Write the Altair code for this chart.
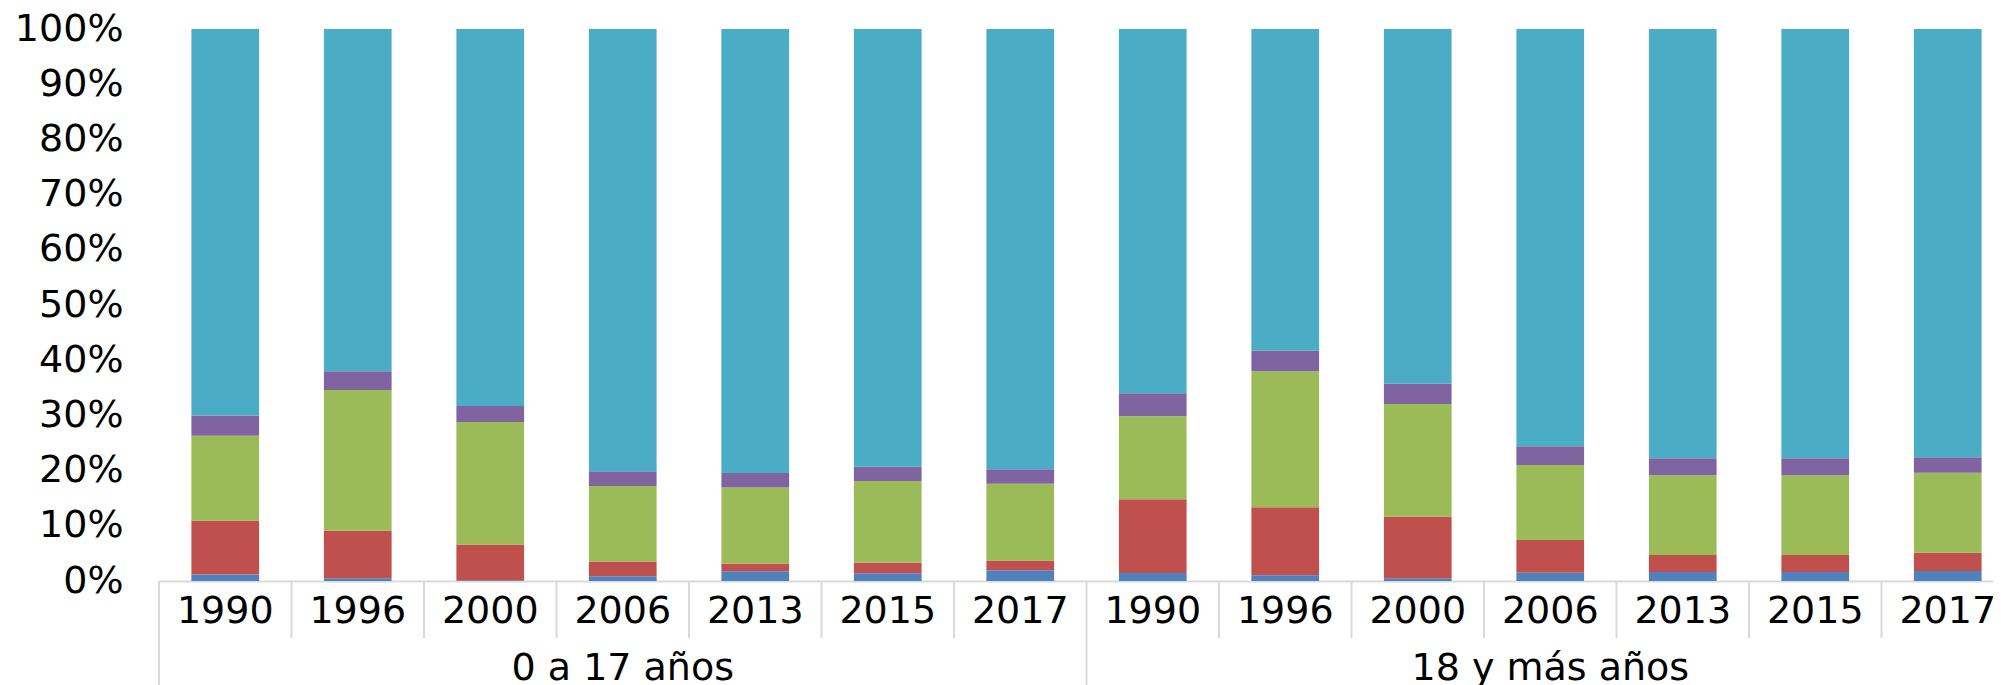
import altair as alt
import pandas as pd

groups = ["0 a 17 años", "18 y más años"]
years = ["1990", "1996", "2000", "2006", "2013", "2015", "2017"]
series = ["Serie 1", "Serie 2", "Serie 3", "Serie 4", "Serie 5"]
colors = ["#4F81BD", "#C0504D", "#9BBB59", "#8064A2", "#4BACC6"]

# values per bar, group 1 then group 2 (percent)
s1 = [1.2, 0.5, 0.15, 0.85, 1.75, 1.4, 1.95, 1.45, 1.05, 0.5, 1.5, 1.65, 1.65, 1.8]
s2 = [9.7, 8.6, 6.45, 2.7, 1.4, 1.9, 1.75, 13.35, 12.3, 11.2, 5.95, 3.05, 3.05, 3.3]
s3 = [15.4, 25.5, 22.2, 13.65, 13.8, 14.8, 13.9, 15.05, 24.65, 20.35, 13.55, 14.45, 14.45, 14.5]
s4 = [3.7, 3.4, 2.9, 2.7, 2.6, 2.6, 2.65, 4.15, 3.7, 3.7, 3.4, 3.1, 3.1, 2.8]
s5 = [70.0, 62.0, 68.3, 80.1, 80.45, 79.3, 79.75, 66.0, 58.3, 64.25, 75.6, 77.75, 77.75, 77.6]

all_series = [s1, s2, s3, s4, s5]
keys = [f"{g}|{y}" for g in groups for y in years]

rows = []
for si, (name, vals) in enumerate(zip(series, all_series)):
    for k, v in zip(keys, vals):
        rows.append({"key": k, "series": name, "idx": si, "value": v})
df = pd.DataFrame(rows)

short_rules = pd.DataFrame({"key": [k for k in keys if k.split("|")[1] != years[0]]})
long_rules = pd.DataFrame({"key": [k for k in keys if k.split("|")[1] == years[0]]})
mid_year = years[len(years) // 2]
group_labels = pd.DataFrame({"key": [f"{g}|{mid_year}" for g in groups], "label": groups})

FONT = "DejaVu Sans"
FS = 38
W = 1834
H = 552
xscale = alt.Scale(domain=keys, range=[0, 1855], paddingInner=0, paddingOuter=0)

bars = alt.Chart(df).mark_bar(width=alt.RelativeBandSize(0.511)).encode(
    x=alt.X(
        "key:N",
        scale=xscale,
        sort=keys,
        axis=alt.Axis(
            title=None,
            labelExpr="split(datum.label, '|')[1]",
            ticks=False,
            domain=True,
            domainColor="#d9d9d9",
            domainWidth=2,
            labelAngle=0,
            labelFontSize=FS,
            labelFont=FONT,
            labelColor="#000000",
            labelPadding=30.5,
            labelBaseline="middle",
            labelOverlap=False,
            labelBound=False,
            grid=False,
        ),
    ),
    y=alt.Y(
        "value:Q",
        stack="normalize",
        scale=alt.Scale(domain=[0, 1]),
        axis=alt.Axis(
            title=None,
            format=".0%",
            values=[i / 10 for i in range(11)],
            domain=False,
            ticks=False,
            grid=False,
            labelFontSize=FS,
            labelFont=FONT,
            labelColor="#000000",
            labelPadding=36,
        ),
    ),
    color=alt.Color("series:N", scale=alt.Scale(domain=series, range=colors), legend=None),
    order=alt.Order("idx:Q", sort="ascending"),
)

short = alt.Chart(short_rules).mark_rule(color="#d9d9d9", strokeWidth=2).encode(
    x=alt.X("key:N", sort=keys, bandPosition=0),
    y=alt.value(H),
    y2=alt.value(609),
)

long = alt.Chart(long_rules).mark_rule(color="#d9d9d9", strokeWidth=2).encode(
    x=alt.X("key:N", sort=keys, bandPosition=0),
    y=alt.value(H),
    y2=alt.value(700),
)

glabels = alt.Chart(group_labels).mark_text(
    font=FONT, fontSize=FS, color="#000000", baseline="middle", align="center"
).encode(
    x=alt.X("key:N", sort=keys, bandPosition=0.5),
    y=alt.value(640),
    text="label:N",
)

chart = alt.layer(bars, short, long, glabels).properties(
    width=W,
    height=H,
    autosize=alt.AutoSizeParams(type="none"),
    padding={"left": 151, "top": 21, "right": 0, "bottom": 104},
).configure_view(stroke=None)

chart.save("out.html", embed_options={"renderer": "svg", "actions": False})
